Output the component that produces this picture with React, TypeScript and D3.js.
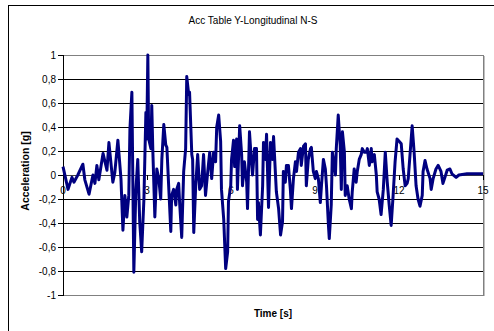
import * as d3 from 'd3'

const title = 'Acc Table Y-Longitudinal N-S'
const xTitle = 'Time [s]'
const yTitle = 'Acceleration [g]'

const xTicks = [0, 3, 6, 9, 12, 15]
const yTicks = [1, 0.8, 0.6, 0.4, 0.2, 0, -0.2, -0.4, -0.6, -0.8, -1]

// time [s]
const time = [
  0, 0.18, 0.32, 0.39, 0.53, 0.71, 0.78, 0.93, 1.07, 1.14, 1.21, 1.28, 1.43, 1.57, 1.64, 1.78, 1.85, 1.96,
  2.07, 2.14, 2.21, 2.28, 2.35, 2.39, 2.46, 2.53, 2.6, 2.67, 2.74, 2.81, 2.89, 2.96, 2.99, 3.03, 3.06, 3.14,
  3.17, 3.21, 3.28, 3.35, 3.42, 3.49, 3.53, 3.6, 3.67, 3.71, 3.78, 3.85, 3.88, 3.95, 4.03, 4.06, 4.13, 4.17,
  4.24, 4.31, 4.38, 4.42, 4.49, 4.52, 4.6, 4.63, 4.67, 4.74, 4.81, 4.88, 4.95, 5.02, 5.09, 5.17, 5.24, 5.31,
  5.38, 5.45, 5.49, 5.56, 5.63, 5.66, 5.74, 5.81, 5.88, 5.91, 5.99, 6.02, 6.09, 6.13, 6.2, 6.23, 6.31, 6.38,
  6.41, 6.48, 6.56, 6.59, 6.66, 6.73, 6.77, 6.84, 6.91, 6.95, 6.98, 7.05, 7.13, 7.16, 7.23, 7.27, 7.34, 7.41,
  7.48, 7.52, 7.62, 7.7, 7.77, 7.84, 7.87, 7.94, 7.98, 8.05, 8.12, 8.16, 8.23, 8.3, 8.34, 8.41, 8.48, 8.51,
  8.59, 8.66, 8.69, 8.76, 8.84, 8.87, 8.94, 9.01, 9.05, 9.12, 9.19, 9.23, 9.3, 9.37, 9.41, 9.48, 9.51, 9.58,
  9.62, 9.73, 9.76, 9.83, 9.9, 9.94, 9.98, 10.05, 10.08, 10.15, 10.22, 10.3, 10.33, 10.4, 10.47, 10.51, 10.58,
  10.65, 10.69, 10.76, 10.83, 10.87, 10.94, 11.01, 11.04, 11.12, 11.19, 11.22, 11.29, 11.36, 11.44, 11.51,
  11.58, 11.65, 11.72, 11.79, 11.86, 11.93, 12.01, 12.08, 12.15, 12.22, 12.29, 12.33, 12.4, 12.47, 12.54,
  12.61, 12.68, 12.75, 12.83, 12.86, 12.93, 13.0, 13.11, 13.15, 13.22, 13.32, 13.4, 13.5, 13.57, 13.64, 13.72,
  13.82, 13.89, 14.04, 14.14, 14.43, 15,
]

// acceleration [g]
const accel = [
  0.07, -0.12, -0.02, -0.06, 0, 0.09, -0.04, -0.16, 0, -0.07, 0.08, -0.04, 0.18, 0.04, 0.27, -0.06, 0.02, 0.29,
  -0.03, -0.46, -0.17, -0.35, -0.17, 0.38, 0.69, -0.81, -0.14, 0.13, -0.39, -0.64, -0.2, 0.52, 0.3, 1.0, 0.3, 0.22,
  0.58, 0.19, -0.35, 0.05, -0.03, -0.2, 0.13, 0.42, 0.25, 0.23, -0.12, -0.47, -0.17, -0.12, -0.25, -0.12, -0.07, -0.25,
  -0.52, 0.03, 0.22, 0.82, 0.67, 0.69, 0.17, 0.13, -0.48, -0.09, 0.17, -0.12, -0.09, 0.17, -0.17, 0.03, 0.19, -0.03,
  0.19, 0.11, 0.4, 0.5, 0.28, -0.12, -0.37, -0.78, -0.64, -0.22, -0.09, 0.13, 0.29, 0.07, 0.3, -0.12, 0.41, 0.17,
  -0.09, 0.11, -0.06, -0.28, 0.36, 0.11, 0, 0.22, 0.22, -0.37, -0.23, -0.5, -0.09, 0.27, 0.13, 0.34, -0.27, 0.27,
  0.13, 0.32, -0.14, -0.28, -0.5, -0.39, 0.03, -0.06, 0.08, 0.08, -0.12, -0.28, -0.03, 0.11, 0.03, 0.19, 0.22, 0.08,
  0.24, 0.26, -0.09, 0.13, 0.22, 0.23, 0.03, -0.03, 0.03, -0.03, -0.23, -0.09, 0.13, 0.05, -0.09, -0.42, -0.53, -0.25,
  0.19, 0, 0.22, 0.5, 0.25, -0.12, 0.36, 0.19, -0.17, -0.09, -0.2, -0.28, -0.14, 0.05, -0.06, 0.03, 0.13,
  0.17, 0.22, 0.19, 0.19, 0.22, 0.08, 0.22, 0.11, 0.17, 0, -0.14, -0.2, -0.33, -0.12, 0.19,
  -0.06, -0.25, -0.42, -0.17, 0.11, 0.3, 0.28, 0.26, 0.05, -0.09, -0.07, -0.03, 0.19, 0.41, 0.19,
  -0.09, -0.2, -0.26, -0.17, 0.03, 0.12, 0.05, -0.03, -0.12, -0.03, 0.05, 0.08, 0.03, -0.07, -0.02, 0.04,
  0.05, 0.01, -0.02, 0, 0.01, 0.01,
]

const W = 494
const H = 331
const plot = { left: 63, right: 483, top: 55, bottom: 295 }
const font = '"Liberation Sans", Arial, sans-serif'

export default function App() {
  const x = d3.scaleLinear().domain([0, 15]).range([plot.left, plot.right])
  const y = d3.scaleLinear().domain([-1, 1]).range([plot.bottom, plot.top])

  const points = time.map((t, i) => [t, accel[i]] as [number, number])
  const line = d3.line<[number, number]>()
    .x(d => x(d[0]))
    .y(d => y(d[1]))

  return (
    <div style={{ position: 'fixed', left: 0, top: 0 }}>
      <svg width={W} height={H} style={{ display: 'block', background: '#fff' }} fontFamily={font}>
        {/* chart area frame */}
        <rect x={8.5} y={5.5} width={500} height={400} fill="none" stroke="#000" strokeWidth={1} />

        <text x={253} y={24} textAnchor="middle" fontSize={10} fill="#000">{title}</text>

        {/* gridlines */}
        {yTicks.filter(v => Math.abs(v) < 1 && v !== 0).map(v => (
          <line key={v} x1={plot.left} x2={plot.right} y1={Math.round(y(v)) + 0.5} y2={Math.round(y(v)) + 0.5}
            stroke="#000" strokeWidth={1} />
        ))}

        {/* plot border */}
        <rect x={plot.left + 0.5} y={plot.top + 0.5} width={plot.right - plot.left} height={plot.bottom - plot.top}
          fill="none" stroke="#808080" strokeWidth={1} />
        <line x1={plot.right + 1.5} x2={plot.right + 1.5} y1={plot.top + 1} y2={plot.bottom + 1} stroke="#c0c0c0" />

        {/* y axis */}
        <line x1={plot.left + 0.5} x2={plot.left + 0.5} y1={plot.top} y2={plot.bottom + 1} stroke="#000" />
        {yTicks.map(v => (
          <g key={v}>
            <line x1={plot.left - 5} x2={plot.left} y1={Math.round(y(v)) + 0.5} y2={Math.round(y(v)) + 0.5} stroke="#000" />
            <text x={56} y={y(v) + 3.5} textAnchor="end" fontSize={10} fill="#000">
              {String(v).replace('.', ',')}
            </text>
          </g>
        ))}

        {/* x axis at zero */}
        <line x1={plot.left} x2={plot.right} y1={Math.round(y(0)) + 0.5} y2={Math.round(y(0)) + 0.5} stroke="#404040" />
        {xTicks.map(v => (
          <g key={v}>
            <line x1={Math.round(x(v)) + 0.5} x2={Math.round(x(v)) + 0.5} y1={y(0)} y2={y(0) + 5} stroke="#000" />
            <text x={x(v)} y={y(0) + 19} textAnchor="middle" fontSize={10} fill="#000">{v}</text>
          </g>
        ))}

        <path d={line(points) || ''} fill="none" stroke="#000080" strokeWidth={3} strokeLinejoin="round" />

        <text x={273} y={317} textAnchor="middle" fontSize={10} fontWeight="bold" fill="#000">{xTitle}</text>
        <text transform="translate(29,171) rotate(-90)" textAnchor="middle" fontSize={10.5} fontWeight="bold" fill="#000">
          {yTitle}
        </text>
      </svg>
    </div>
  )
}
